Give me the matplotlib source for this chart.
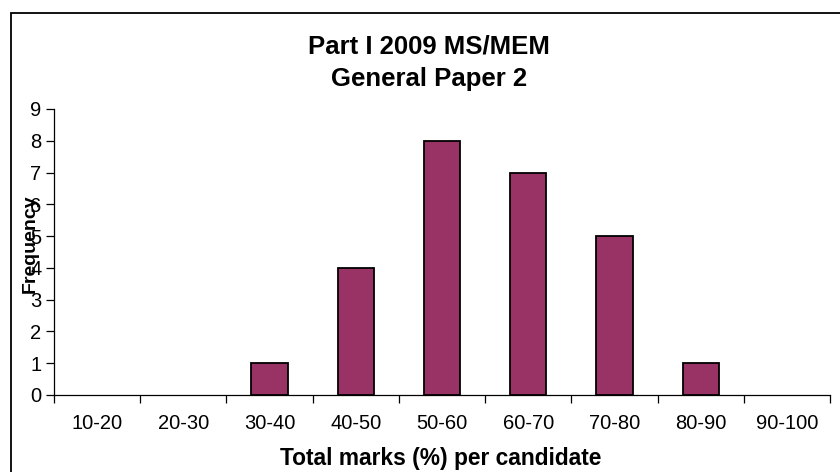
import matplotlib
matplotlib.use('Agg')
import matplotlib.pyplot as plt
from matplotlib.patches import Rectangle
import numpy as np

plt.rcParams['font.family'] = ['Liberation Sans', 'DejaVu Sans']

bins = ['10-20', '20-30', '30-40', '40-50', '50-60', '60-70', '70-80', '80-90', '90-100']
freq = [0, 0, 1, 4, 8, 7, 5, 1, 0]

fig = plt.figure(figsize=(8.4, 4.72), dpi=100)
ax = fig.add_axes([54 / 840, 1 - 395 / 472, 776 / 840, 286 / 472])

x = np.arange(len(bins))
# empty bins get no outline so nothing shows on the axis
edge_w = [1.3 if v > 0 else 0 for v in freq]
ax.bar(x, freq, width=0.42, color='#993366', edgecolor='black', linewidth=edge_w, zorder=3)

ax.set_xlim(-0.5, len(bins) - 0.5)
ax.set_ylim(0, 9)
ax.set_yticks(range(10))

# labels sit at the bin centres, tick marks on the bin edges
ax.set_xticks(x)
ax.set_xticklabels(bins)
ax.set_xticks(np.arange(-0.5, len(bins)), minor=True)
ax.tick_params(axis='x', which='major', length=0, pad=14, labelsize=14.5)
ax.tick_params(axis='x', which='minor', length=6, width=0.9, direction='out')
ax.tick_params(axis='y', length=6, width=0.9, direction='out', pad=3, labelsize=14.5)

for side in ['top', 'right']:
    ax.spines[side].set_visible(False)
for side in ['left', 'bottom']:
    ax.spines[side].set_linewidth(0.9)

fig.text(429 / 840, 1 - 53 / 472, 'Part I 2009 MS/MEM', ha='center', va='baseline',
         fontsize=18.5, fontweight='bold')
fig.text(429 / 840, 1 - 86 / 472, 'General Paper 2', ha='center', va='baseline',
         fontsize=18.5, fontweight='bold')
fig.text(441 / 840, 1 - 465 / 472, 'Total marks (%) per candidate', ha='center', va='baseline',
         fontsize=16.4, fontweight='bold')
fig.text(30 / 840, 1 - 244 / 472, 'Frequency', ha='center', va='center', rotation=90,
         fontsize=14, fontweight='bold')

# chart area border
fig.patches.append(Rectangle((11 / 840, -0.1), 1.0, 1 - 13 / 472 + 0.1, transform=fig.transFigure,
                             fill=False, edgecolor='black', linewidth=1.3))

fig.savefig('out.png', dpi=100)
